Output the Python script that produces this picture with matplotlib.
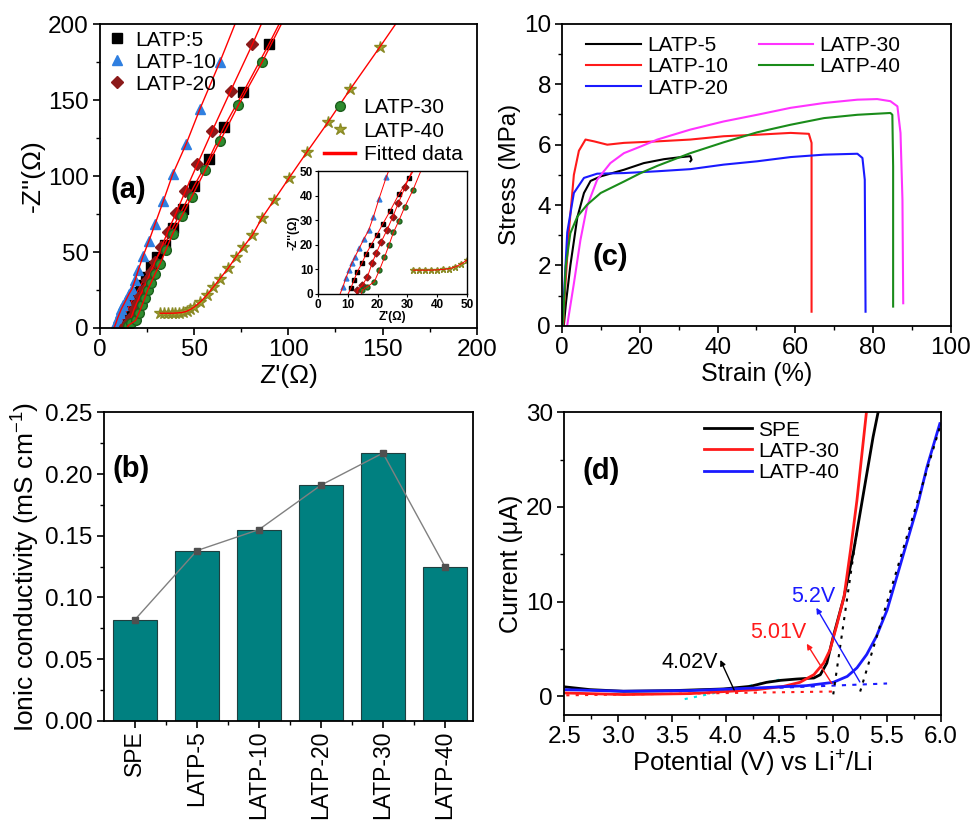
import numpy as np
import matplotlib
matplotlib.use("Agg")
import matplotlib.pyplot as plt
from matplotlib.ticker import MultipleLocator, FormatStrFormatter

plt.rcParams["font.family"] = ["Liberation Sans", "DejaVu Sans"]
plt.rcParams["mathtext.fontset"] = "custom"
plt.rcParams["mathtext.rm"] = "Liberation Sans"
plt.rcParams["mathtext.it"] = "Liberation Sans:italic"
plt.rcParams["axes.linewidth"] = 1.3

TICK = 17.5
LAB = 18
LEG = 15

# ── (a) Nyquist data ─────────────────────────────────────────────────────────
z5_re  = [11.0, 12.1, 13.2, 14.7, 16.1, 17.8, 19.7, 21.7, 24.2, 27.1, 30.5, 34.3, 38.6, 43.9, 49.9, 57.7, 65.8, 76.1, 89.6]
z5_im  = [2.3, 5.7, 9.1, 12.4, 16.2, 19.9, 23.9, 28.4, 33.8, 40.5, 47.0, 54.9, 65.9, 78.5, 93.4, 111.0, 132.3, 155.4, 186.8]
z10_re = [8.4, 9.3, 10.4, 11.3, 12.4, 13.8, 15.3, 17.0, 18.6, 20.4, 22.9, 26.0, 29.2, 33.6, 38.6, 45.7, 53.1, 63.7]
z10_im = [3.0, 6.4, 9.7, 12.4, 15.1, 18.5, 22.2, 25.9, 31.4, 38.5, 47.5, 57.4, 68.4, 83.5, 101.3, 121.1, 144.4, 175.4]
z20_re = [13.2, 14.9, 16.6, 18.1, 19.5, 21.2, 23.1, 25.1, 26.9, 29.2, 32.6, 35.9, 40.4, 45.3, 51.7, 59.6, 69.4, 80.9]
z20_im = [1.6, 3.6, 7.0, 12.4, 16.5, 21.2, 25.9, 31.4, 36.8, 43.5, 53.0, 63.3, 75.8, 90.1, 107.9, 129.9, 156.3, 186.8]
z30_re = [14.9, 16.6, 18.9, 20.6, 22.3, 23.8, 25.3, 27.1, 29.1, 31.9, 34.9, 38.6, 43.4, 48.7, 55.9, 63.7, 73.5, 86.2]
z30_im = [1.6, 3.0, 5.0, 9.7, 14.9, 19.9, 25.0, 29.7, 35.4, 42.4, 51.2, 62.2, 73.6, 86.4, 104.0, 123.1, 146.8, 175.4]
z40_re = [32, 34, 36, 38, 40, 42, 44, 46, 48, 50, 53.1, 56.6, 60.2, 63.7, 68.1, 72.2, 76.1, 80.9, 85.8, 92.4, 100.2, 109.7, 121.2, 132.8, 148.7]
z40_im = [9.7, 9.7, 9.7, 9.7, 9.8, 10.0, 10.3, 11.0, 12.2, 13.8, 17.0, 21.5, 27.0, 32.5, 39.5, 46.8, 53.4, 61.1, 72.1, 84.2, 98.5, 115.6, 135.8, 157.2, 185.3]

# ── (b) conductivity ─────────────────────────────────────────────────────────
samples = ["SPE", "LATP-5", "LATP-10", "LATP-20", "LATP-30", "LATP-40"]
sigma   = [0.082, 0.138, 0.155, 0.191, 0.217, 0.125]

# ── (c) stress-strain ────────────────────────────────────────────────────────
ss5_x  = [0.4, 1.0, 2.1, 3.9, 5.6, 7.3, 9.9, 15.9, 21.0, 26.2, 30.0, 33.0, 33.3, 33.0]
ss5_y  = [0.0, 0.8, 2.0, 3.6, 4.4, 4.8, 4.95, 5.17, 5.39, 5.52, 5.58, 5.62, 5.5, 5.45]
ss10_x = [0.3, 0.6, 1.7, 3.0, 4.3, 6.0, 8.2, 11.6, 15.9, 24.5, 33.0, 41.6, 50.2, 58.8, 63.5, 64.2, 64.2]
ss10_y = [0.0, 0.9, 3.1, 5.0, 5.8, 6.17, 6.11, 6.0, 6.06, 6.11, 6.17, 6.28, 6.33, 6.39, 6.36, 6.06, 0.47]
ss20_x = [0.1, 0.4, 1.3, 3.0, 5.6, 9.0, 15.9, 24.5, 33.0, 41.6, 50.2, 58.8, 67.4, 76.0, 77.3, 77.9, 78.1]
ss20_y = [0.0, 0.9, 3.1, 4.4, 4.9, 5.04, 5.06, 5.12, 5.19, 5.34, 5.45, 5.59, 5.67, 5.70, 5.56, 4.84, 0.47]
ss30_x = [1.3, 3.0, 4.7, 6.4, 9.0, 12.4, 15.9, 20.2, 24.5, 33.0, 41.6, 50.2, 58.8, 67.4, 76.0, 81.1, 84.5, 86.3, 87.1, 87.6, 87.8]
ss30_y = [0.03, 1.4, 2.85, 3.96, 4.84, 5.39, 5.72, 5.94, 6.17, 6.5, 6.77, 6.99, 7.22, 7.38, 7.49, 7.51, 7.44, 7.27, 6.39, 4.18, 0.75]
ss40_x = [0.1, 0.3, 0.9, 2.1, 3.9, 6.4, 9.9, 15.9, 20.2, 24.5, 33.0, 41.6, 50.2, 58.8, 67.4, 76.0, 84.5, 85.0, 85.2, 85.2]
ss40_y = [0.0, 0.3, 1.97, 3.07, 3.62, 4.01, 4.40, 4.78, 5.06, 5.30, 5.72, 6.08, 6.41, 6.66, 6.88, 6.99, 7.05, 6.99, 5.28, 0.64]

# ── (d) LSV ──────────────────────────────────────────────────────────────────
spe_v  = [2.5, 2.74, 3.05, 3.52, 3.98, 4.23, 4.38, 4.51, 4.66, 4.82, 4.88, 4.94, 5.0, 5.1, 5.19, 5.28, 5.37, 5.42]
spe_i  = [1.0, 0.7, 0.53, 0.6, 0.77, 1.05, 1.47, 1.68, 1.82, 1.93, 2.28, 3.5, 6.3, 10.5, 15.4, 21.4, 27.4, 30.2]
l30_v  = [2.5, 3.05, 3.67, 4.29, 4.54, 4.69, 4.82, 4.91, 4.97, 5.03, 5.1, 5.16, 5.22, 5.27, 5.31]
l30_i  = [0.35, 0.18, 0.28, 0.7, 1.05, 1.47, 2.28, 3.5, 4.9, 7.4, 10.5, 15.4, 20.7, 26.0, 30.2]
l40_v  = [2.5, 3.05, 3.67, 4.29, 4.75, 5.0, 5.13, 5.22, 5.31, 5.4, 5.5, 5.59, 5.68, 5.78, 5.87, 5.99]
l40_i  = [0.7, 0.53, 0.6, 0.88, 1.12, 1.47, 2.1, 3.0, 4.4, 6.3, 9.1, 12.6, 16.1, 20.0, 24.2, 28.8]
# tangent / baseline guides
tan_spe_v, tan_spe_i = [5.0, 5.22], [0.2, 17.5]
tan_l40_v, tan_l40_i = [5.25, 6.0], [0.5, 28.8]
base_l30_v, base_l30_i = [2.52, 5.0], [0.1, 0.5]
base_l40_v, base_l40_i = [4.5, 5.5], [0.9, 1.35]
base_spe_v, base_spe_i = [3.62, 4.5], [-0.3, 1.75]


def fitted(re, im, top=200):
    """straight-line extension of the data to the top of the plot and down to 0"""
    re = np.asarray(re, float); im = np.asarray(im, float)
    k, b = np.polyfit(im[-5:], re[-5:], 1)
    xs, ys = list(re), list(im)
    if 0.5 < im[0] < 5:
        k0, b0 = np.polyfit(im[:4], re[:4], 1)
        xs.insert(0, b0); ys.insert(0, 0.0)
    xs.append(k * top + b); ys.append(top)
    return xs, ys


def style(ax, size=TICK):
    ax.tick_params(which="major", direction="out", length=5, width=1.2, labelsize=size, pad=3)
    ax.tick_params(which="minor", direction="out", length=3, width=1.0)


fig = plt.figure(figsize=(9.71, 8.23), dpi=100)

# ── panel (a) ────────────────────────────────────────────────────────────────
ax1 = fig.add_axes([0.103, 0.6015, 0.388, 0.369])
series = [
    (z5_re, z5_im, "s", "black", "black", "LATP:5"),
    (z10_re, z10_im, "^", "#2f7fe0", "#2f7fe0", "LATP-10"),
    (z20_re, z20_im, "D", "#8b1a1a", "#8b1a1a", "LATP-20"),
    (z30_re, z30_im, "o", "#2e8b2e", "#1d5e1d", "LATP-30"),
    (z40_re, z40_im, "*", "#a3a332", "#8a8a25", "LATP-40"),
]
handles = []
for re, im, m, fc, ec, lab in series:
    ms = {"*": 9, "D": 6.5}.get(m, 7)
    h, = ax1.plot(re, im, ls="none", marker=m, ms=ms, mfc=fc, mec=ec, label=lab)
    handles.append(h)
    fx, fy = fitted(re, im)
    ax1.plot(fx, fy, color="red", lw=1.0)
ax1.set_xlim(0, 200)
ax1.set_ylim(0, 200)
ax1.xaxis.set_major_locator(MultipleLocator(50))
ax1.xaxis.set_minor_locator(MultipleLocator(25))
ax1.yaxis.set_major_locator(MultipleLocator(50))
ax1.yaxis.set_minor_locator(MultipleLocator(25))
style(ax1)
ax1.set_xlabel("Z'(Ω)", fontsize=LAB + 1, labelpad=2)
ax1.set_ylabel("-Z''(Ω)", fontsize=LAB + 1, labelpad=2)
leg1 = ax1.legend(handles=handles[:3], loc="upper left", frameon=False, fontsize=LEG,
                  handletextpad=0.4, borderaxespad=0.1, borderpad=0.2, labelspacing=0.15,
                  handlelength=1.0)
ax1.add_artist(leg1)
leg_fit = plt.Line2D([], [], color="red", lw=2.5, label="Fitted data")
ax1.legend(handles=handles[3:] + [leg_fit], loc="upper right", frameon=False, fontsize=LEG,
           bbox_to_anchor=(0.99, 0.79), handletextpad=0.4, borderaxespad=0.1,
           labelspacing=0.2, handlelength=1.5)
ax1.text(0.027, 0.454, "(a)", transform=ax1.transAxes, fontsize=21, fontweight="bold",
         va="center", ha="left")

# inset
axi = fig.add_axes([0.3275, 0.6428, 0.1535, 0.1494])
for re, im, m, fc, ec, lab in series:
    axi.plot(re, im, ls="none", marker=m, ms=3.5 if m != "*" else 4.5, mfc=fc, mec=ec)
    fx, fy = fitted(re, im)
    axi.plot(fx, fy, color="red", lw=0.7)
axi.set_xlim(0, 50)
axi.set_ylim(0, 50)
axi.xaxis.set_major_locator(MultipleLocator(10))
axi.yaxis.set_major_locator(MultipleLocator(10))
axi.tick_params(direction="out", length=2.5, width=0.8, labelsize=8.5, pad=1)
for lab in axi.get_xticklabels() + axi.get_yticklabels():
    lab.set_fontweight("bold")
axi.set_xlabel("Z'(Ω)", fontsize=8.5, fontweight="bold", labelpad=0)
axi.set_ylabel("-Z''(Ω)", fontsize=8.5, fontweight="bold", labelpad=0)
for s in axi.spines.values():
    s.set_linewidth(1.0)

# ── panel (c) ────────────────────────────────────────────────────────────────
ax3 = fig.add_axes([0.579, 0.604, 0.400, 0.367])
for x, y, c, lab in [(ss5_x, ss5_y, "black", "LATP-5"), (ss10_x, ss10_y, "#ff1a1a", "LATP-10"),
                     (ss20_x, ss20_y, "#1a1aff", "LATP-20"), (ss30_x, ss30_y, "#ff33ff", "LATP-30"),
                     (ss40_x, ss40_y, "#1a8c1a", "LATP-40")]:
    ax3.plot(x, y, color=c, lw=1.5, label=lab)
ax3.set_xlim(0, 100)
ax3.set_ylim(0, 10)
ax3.xaxis.set_major_locator(MultipleLocator(20))
ax3.xaxis.set_minor_locator(MultipleLocator(10))
ax3.yaxis.set_major_locator(MultipleLocator(2))
ax3.yaxis.set_minor_locator(MultipleLocator(1))
style(ax3)
ax3.set_xlabel("Strain (%)", fontsize=LAB, labelpad=2)
ax3.set_ylabel("Stress (MPa)", fontsize=LAB - 0.5, labelpad=2)
ax3.legend(loc="upper left", ncol=2, frameon=False, fontsize=LEG, handlelength=2.6,
           handletextpad=0.3, columnspacing=1.5, labelspacing=0.1, borderaxespad=0.2,
           bbox_to_anchor=(0.03, 1.0))
ax3.text(0.077, 0.228, "(c)", transform=ax3.transAxes, fontsize=21, fontweight="bold",
         va="center", ha="left")

# ── panel (b) ────────────────────────────────────────────────────────────────
ax2 = fig.add_axes([0.107, 0.124, 0.380, 0.375])
xpos = np.arange(len(samples))
ax2.bar(xpos, sigma, width=0.71, color="#008080", edgecolor="#1f3f3f", linewidth=0.8)
ax2.plot(xpos, sigma, color="#808080", lw=1.0, marker="s", ms=4, mfc="#505050", mec="#505050")
ax2.set_xlim(-0.5, 5.45)
ax2.set_ylim(0, 0.25)
ax2.set_xticks(xpos)
ax2.set_xticklabels(samples, rotation=90, fontsize=16.5)
ax2.set_xticks(xpos[:-1] + 0.5, minor=True)
ax2.yaxis.set_major_locator(MultipleLocator(0.05))
ax2.yaxis.set_minor_locator(MultipleLocator(0.025))
ax2.yaxis.set_major_formatter(FormatStrFormatter("%.2f"))
style(ax2)
ax2.tick_params(axis="x", labelsize=16.5, pad=2)
ax2.set_ylabel("Ionic conductivity (mS cm$^{-1}$)", fontsize=LAB + 1, labelpad=2)
ax2.text(0.022, 0.816, "(b)", transform=ax2.transAxes, fontsize=21, fontweight="bold",
         va="center", ha="left")

# ── panel (d) ────────────────────────────────────────────────────────────────
ax4 = fig.add_axes([0.581, 0.131, 0.388, 0.368])
ax4.plot(base_spe_v, base_spe_i, color="#00e5e5", lw=1.5, ls=(0, (1.5, 3)))
ax4.plot(base_l30_v, base_l30_i, color="#ff1a1a", lw=1.5, ls=(0, (1.5, 3)))
ax4.plot(base_l40_v, base_l40_i, color="#1a1aff", lw=1.5, ls=(0, (2, 3)))
ax4.plot(spe_v, spe_i, color="black", lw=2.0, label="SPE")
ax4.plot(l30_v, l30_i, color="#ff1a1a", lw=2.0, label="LATP-30")
ax4.plot(l40_v, l40_i, color="#1a1aff", lw=2.0, label="LATP-40")
ax4.plot(tan_spe_v, tan_spe_i, color="black", lw=1.5, ls=(0, (1.5, 3)))
ax4.plot(tan_l40_v, tan_l40_i, color="black", lw=1.5, ls=(0, (1.5, 3)))
ax4.annotate("", xy=(3.94, 4.1), xytext=(4.09, 0.4),
             arrowprops=dict(arrowstyle="-|>", color="black", lw=1.0, mutation_scale=8))
ax4.text(3.93, 3.6, "4.02V", color="black", fontsize=LEG + 0.5, ha="right", va="center")
ax4.annotate("", xy=(4.74, 5.8), xytext=(5.0, 1.1),
             arrowprops=dict(arrowstyle="-|>", color="#ff1a1a", lw=1.0, mutation_scale=8))
ax4.text(4.75, 6.7, "5.01V", color="#ff1a1a", fontsize=LEG + 0.5, ha="right", va="center")
ax4.annotate("", xy=(4.83, 9.6), xytext=(5.26, 1.26),
             arrowprops=dict(arrowstyle="-|>", color="#1a1aff", lw=1.0, mutation_scale=8))
ax4.text(4.61, 10.5, "5.2V", color="#1a1aff", fontsize=LEG + 0.5, ha="left", va="center")
ax4.set_xlim(2.5, 6.0)
ax4.set_ylim(-2, 30)
ax4.xaxis.set_major_locator(MultipleLocator(0.5))
ax4.xaxis.set_minor_locator(MultipleLocator(0.25))
ax4.yaxis.set_major_locator(MultipleLocator(10))
ax4.yaxis.set_minor_locator(MultipleLocator(5))
ax4.xaxis.set_major_formatter(FormatStrFormatter("%.1f"))
style(ax4)
ax4.set_xlabel("Potential (V) vs Li$^{+}$/Li", fontsize=LAB + 0.5, labelpad=0)
ax4.set_ylabel("Current (μA)", fontsize=LAB, labelpad=2)
ax4.legend(loc="upper center", frameon=False, fontsize=LEG, handlelength=2.3,
           handletextpad=0.3, labelspacing=0.1, borderaxespad=0.0, bbox_to_anchor=(0.55, 1.0))
ax4.text(0.05, 0.805, "(d)", transform=ax4.transAxes, fontsize=21, fontweight="bold",
         va="center", ha="left")

fig.savefig("out.png", dpi=100)
